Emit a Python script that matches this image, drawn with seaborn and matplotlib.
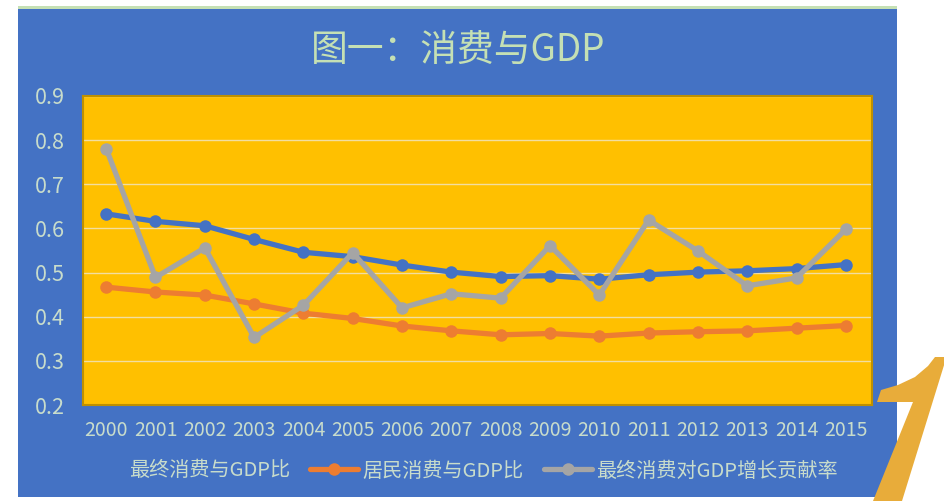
import pandas as pd
import numpy as np
import seaborn as sns
import matplotlib.pyplot as plt
from matplotlib.patches import Rectangle, Polygon

years = list(range(2000, 2016))
final_gdp = [0.633, 0.616, 0.606, 0.575, 0.546, 0.536, 0.517, 0.501,
             0.491, 0.493, 0.485, 0.495, 0.501, 0.504, 0.509, 0.518]
resident_gdp = [0.467, 0.456, 0.449, 0.429, 0.408, 0.396, 0.379, 0.368,
                0.359, 0.362, 0.356, 0.363, 0.366, 0.368, 0.374, 0.380]
contrib_rate = [0.781, 0.489, 0.556, 0.353, 0.426, 0.545, 0.420, 0.452,
                0.442, 0.561, 0.449, 0.619, 0.549, 0.470, 0.488, 0.598]
names = ['最终消费与GDP比', '居民消费与GDP比', '最终消费对GDP增长贡献率']
colors = ['#4472C4', '#ED7D31', '#A5A5A5']
y_ticks = [0.2, 0.3, 0.4, 0.5, 0.6, 0.7, 0.8, 0.9]

df = pd.DataFrame({
    'year': years * 3,
    'value': final_gdp + resident_gdp + contrib_rate,
    'series': [names[0]] * 16 + [names[1]] * 16 + [names[2]] * 16,
})

sns.set_theme(style='white')
plt.rcParams['font.family'] = ['Noto Sans CJK SC', 'DejaVu Sans']
txt = '#C8DCCB'

fig = plt.figure(figsize=(9.45, 5.01), dpi=100, facecolor='white')
W, H = 945, 501

# blue chart box
fig.patches.append(Rectangle((18 / W, 1 - 497 / H), 879 / W, 488 / H,
                             transform=fig.transFigure, facecolor='#4472C4',
                             edgecolor='none', zorder=-2))
fig.patches.append(Rectangle((18 / W, 1 - 9 / H), 879 / W, 3 / H,
                             transform=fig.transFigure, facecolor='#C5E0B4',
                             edgecolor='none', zorder=-2))

ax = fig.add_axes([83 / W, 1 - 405 / H, 789 / W, 309 / H])
ax.set_facecolor('#FFC000')
sns.lineplot(data=df, x='year', y='value', hue='series', hue_order=names,
             palette=colors, marker='o', markersize=9, markeredgewidth=0,
             linewidth=3.8, ax=ax)

ax.set_xlim(1999.53, 2015.53)
ax.set_ylim(0.2, 0.9)
ax.set_xticks(years)
ax.set_xticklabels([str(y) for y in years], color=txt, fontsize=14)
ax.set_yticks(y_ticks)
ax.set_yticklabels([f'{v:.1f}' for v in y_ticks], color=txt, fontsize=15.5)
ax.tick_params(axis='x', length=0, pad=11)
ax.tick_params(axis='y', length=0, pad=13)
ax.grid(axis='y', color='#F2DEA0', linewidth=1)
ax.set_xlabel('')
ax.set_ylabel('')
for s in ax.spines.values():
    s.set_color('#BF9000')
    s.set_linewidth(1.5)

handles, labels = ax.get_legend_handles_labels()
ax.get_legend().remove()
leg = fig.legend(handles, labels, loc='center', bbox_to_anchor=(457 / W, 1 - 471 / H),
                 ncol=3, frameon=False, fontsize=14.5, handlelength=2.4,
                 handletextpad=0.2, columnspacing=1.0)
for t in leg.get_texts():
    t.set_color(txt)

fig.text(458 / W, 1 - 50 / H, '图一：消费与GDP', ha='center', va='center',
         fontsize=26.5, color='#C5E0B4')

# decorative "1" shape at the bottom right
pts = [(877, 402), (881, 390), (898, 385), (915, 377), (928, 366), (935, 357),
       (945, 357), (945, 362), (902, 501), (873, 501), (913, 402)]
fig.patches.append(Polygon([(x / W, 1 - y / H) for x, y in pts], closed=True,
                           transform=fig.transFigure, facecolor='#E8AC3A',
                           edgecolor='none', zorder=3))

plt.savefig('out.png', dpi=100, facecolor='white')
